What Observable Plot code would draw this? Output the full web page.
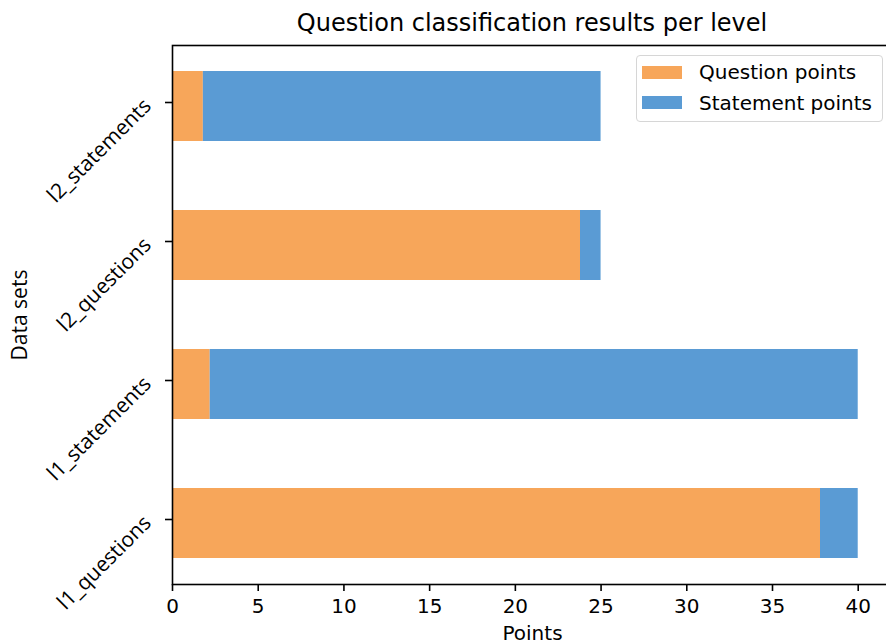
<!DOCTYPE html>
<html>
<head>
<meta charset="utf-8">
<script src="https://cdn.jsdelivr.net/npm/d3@7"></script>
<script src="https://cdn.jsdelivr.net/npm/@observablehq/plot@0.6"></script>
<style>
  body { margin: 0; background: #fff; font-family: "DejaVu Sans", sans-serif; }
  #wrap { position: relative; width: 886px; height: 643px; overflow: hidden; }
  #title { position: absolute; left: 172px; width: 720px; top: 9px; text-align: center; font-size: 24px; color: #000; white-space: nowrap; }
  #legend { position: absolute; left: 636px; top: 55px; width: 247px; height: 67px; box-sizing: border-box;
            border: 1px solid #d6d6d6; border-radius: 4px; background: rgba(255,255,255,0.8); }
  .item { position: absolute; left: 6px; display: flex; align-items: center; font-size: 20px; color: #000; white-space: nowrap; }
  .sw { width: 40px; height: 13px; margin-right: 17px; }
  #plot { position: absolute; left: 0; top: 0; width: 892px; }
  #plot svg { max-width: none !important; }
</style>
</head>
<body>
<div id="wrap">
  <div id="plot"></div>
  <div id="title"></div>
  <div id="legend"></div>
</div>
<script>
const datasets = ["l1_questions", "l1_statements", "l2_questions", "l2_statements"];
const questionPoints = [37.8, 2.2, 23.8, 1.8];
const statementPoints = [2.2, 37.8, 1.2, 23.2];
const seriesNames = ["Question points", "Statement points"];
const seriesColors = ["#f7a65a", "#5a9bd4"];
const xTicks = [0, 5, 10, 15, 20, 25, 30, 35, 40];
const titleText = "Question classification results per level";

const rows = [];
datasets.forEach((d, i) => {
  rows.push({dataset: d, series: seriesNames[0], value: questionPoints[i]});
  rows.push({dataset: d, series: seriesNames[1], value: statementPoints[i]});
});

const chart = Plot.plot({
  width: 892,
  height: 643,
  marginLeft: 172,
  marginRight: 0,
  marginTop: 45,
  marginBottom: 59,
  style: {fontFamily: "DejaVu Sans, sans-serif", fontSize: "20px", color: "#000", background: "transparent", overflow: "visible"},
  x: {domain: [0, 42]},
  y: {domain: datasets.slice().reverse(), paddingInner: 0.5, paddingOuter: 0.179, align: 0.5},
  color: {domain: seriesNames, range: seriesColors},
  marks: [
    Plot.barX(rows, Plot.stackX({y: "dataset", x: "value", fill: "series", order: seriesNames})),
    Plot.frame({stroke: "#000", strokeWidth: 1.6}),
    Plot.axisX({ticks: xTicks, tickSize: 7, strokeWidth: 1.6, tickPadding: 7, label: "Points", labelAnchor: "center", labelArrow: "none", labelOffset: 55, fontSize: 20}),
    Plot.axisY({tickSize: 7, strokeWidth: 1.6, tickPadding: 18, dy: -4, tickRotate: -45, fontFamily: "Open Sans, sans-serif", label: "Data sets", labelAnchor: "center", labelArrow: "none", labelOffset: 160, fontSize: 21})
  ]
});
document.getElementById("plot").appendChild(chart);
document.getElementById("title").textContent = titleText;

const legend = document.getElementById("legend");
seriesNames.forEach((name, i) => {
  const item = document.createElement("div");
  item.className = "item";
  item.style.top = (4 + i * 30.5) + "px";
  item.style.left = "5px";
  const sw = document.createElement("div");
  sw.className = "sw";
  sw.style.background = seriesColors[i];
  const label = document.createElement("span");
  label.textContent = name;
  item.appendChild(sw);
  item.appendChild(label);
  legend.appendChild(item);
});
</script>
</body>
</html>
